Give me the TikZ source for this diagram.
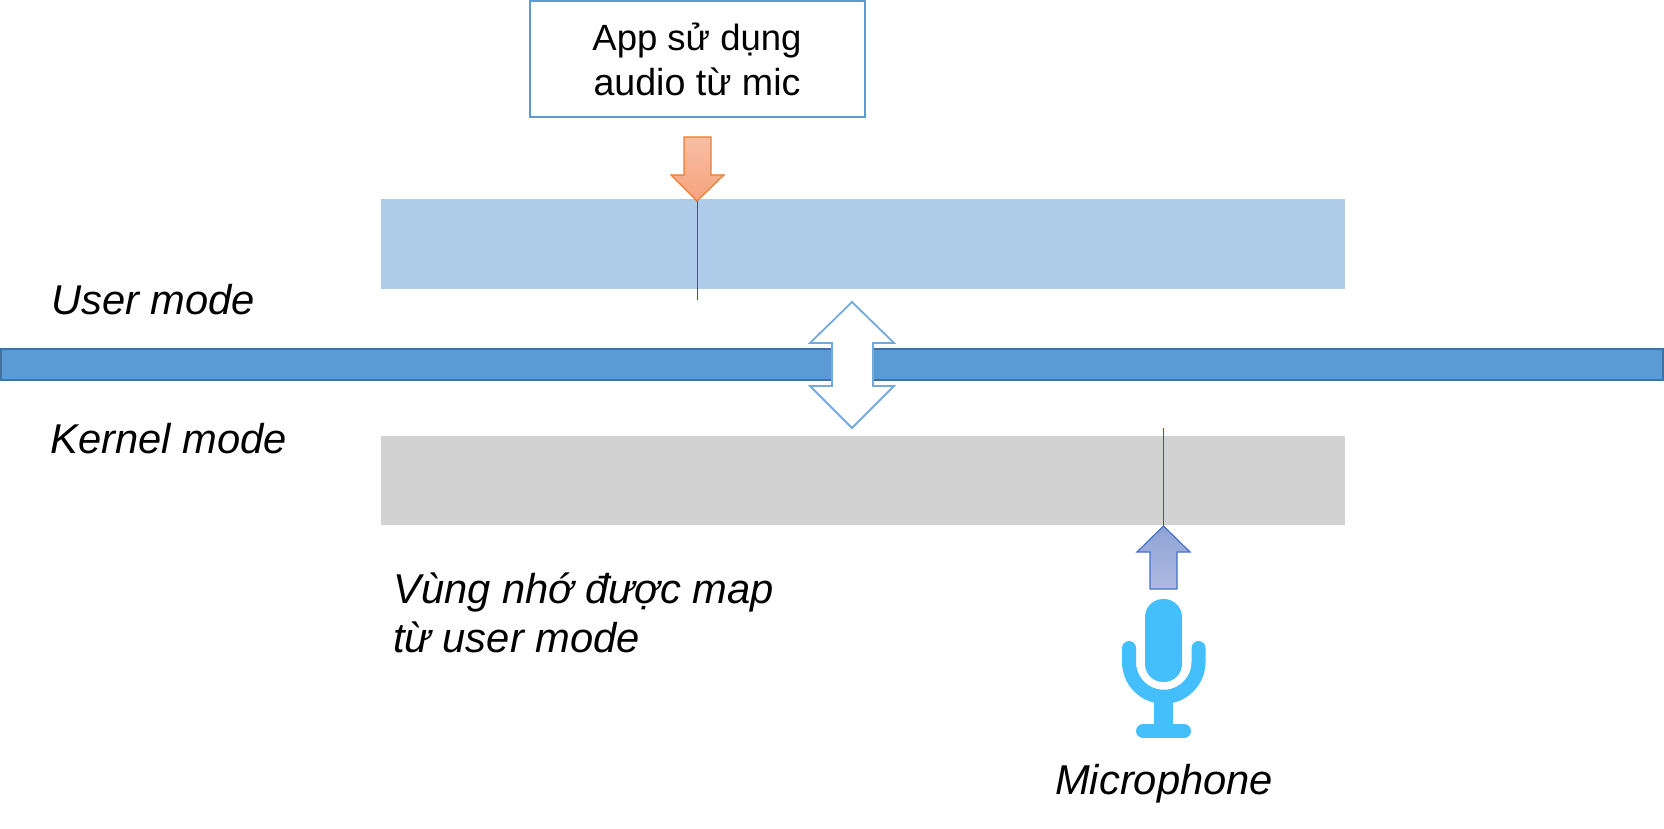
\documentclass[tikz,border=0pt]{standalone}
\usepackage{fontspec}
\setmainfont{Liberation Sans}
\definecolor{barblue}{HTML}{5B9BD5}
\definecolor{bardark}{HTML}{41719C}
\definecolor{lightband}{HTML}{AECCEA}
\definecolor{greyband}{HTML}{D2D2D2}
\definecolor{micblue}{HTML}{45BFFC}
\definecolor{orangetop}{HTML}{F8BFA4}
\definecolor{orangebot}{HTML}{F6A27E}
\definecolor{orangeline}{HTML}{ED7D31}
\definecolor{indigotop}{HTML}{8FA3D6}
\definecolor{indigobot}{HTML}{AEBAE0}
\definecolor{indigoline}{HTML}{4472C4}
\definecolor{redln}{HTML}{D81E1E}
\tikzset{
  band/.style={draw=none,minimum width=964pt,minimum height=89.5pt,inner sep=0pt,outer sep=0pt},
  barpart/.style={draw=bardark,line width=1.8pt,fill=barblue},
  note/.style={font=\fontsize{41.7}{49}\selectfont\itshape,inner sep=0pt,anchor=base west,align=left},
  redline/.style={draw=redln,line width=1pt},
}
\begin{document}
\begin{tikzpicture}[x=1pt,y=-1pt]
\useasboundingbox (0,0) rectangle (1664,829);
\fill[white] (0,0) rectangle (1664,829);
% bands
\node[band,fill=lightband] (userband) at (863,244) {};
\node[band,fill=greyband] (kernelband) at (863,480.5) {};
% bar
\draw[barpart] (1,349) rectangle (832,380);
\draw[barpart] (873,349) rectangle (1663,380);
% double arrow
\draw[draw=barblue!85!white,line width=1.8pt,fill=white] (852,302) -- (894,343) -- (873,343) -- (873,386) -- (894,386) -- (852,428) -- (810,386) -- (832,386) -- (832,343) -- (810,343) -- cycle;
% app box
\node[draw=barblue,line width=2pt,fill=white,minimum width=335pt,minimum height=116pt,inner sep=0pt,align=center,font=\fontsize{37.6}{45}\selectfont] (app) at (697,59) {{\fontsize{36.5}{45}\selectfont App sử dụng}\\audio từ mic};
% down arrow
\shade[top color=orangetop,bottom color=orangebot] (684,137) -- (711,137) -- (711,175) -- (724,175) -- (697,201) -- (671,175) -- (684,175) -- cycle;
\draw[draw=orangeline,line width=1.2pt,line join=miter] (684,137) -- (711,137) -- (711,175) -- (724,175) -- (697,201) -- (671,175) -- (684,175) -- cycle;
\coordinate (downtip) at (697,201);
\coordinate (downend) at (697,300);
\draw[redline] (downtip) -- (downend);
% up arrow
\shade[top color=indigotop,bottom color=indigobot] (1150,589) -- (1177,589) -- (1177,552) -- (1190,552) -- (1163.5,526) -- (1137,552) -- (1150,552) -- cycle;
\draw[draw=indigoline,line width=1.2pt] (1150,589) -- (1177,589) -- (1177,552) -- (1190,552) -- (1163.5,526) -- (1137,552) -- (1150,552) -- cycle;
\coordinate (uptip) at (1163,526);
\coordinate (upend) at (1163,428);
\draw[redline] (uptip) -- (upend);
% microphone
\fill[micblue,rounded corners=18pt] (1145,599) rectangle (1182,682);
\draw[micblue,line width=14pt,line cap=round] (1129,648) -- (1129,662) arc[start angle=180,end angle=0,radius=34.75] -- (1198.5,648);
\fill[micblue] (1154,700) rectangle (1173,730);
\draw[micblue,line width=14pt,line cap=round] (1143,731) -- (1184,731);
% labels
\node[note] (user) at (51,314) {User mode};
\node[note] (kernel) at (50,453) {Kernel mode};
\node[note] (vung) at (393,652) {Vùng nhớ được map\\từ user mode};
\node[note] (micl) at (1055,794) {Microphone};
\end{tikzpicture}
\end{document}
